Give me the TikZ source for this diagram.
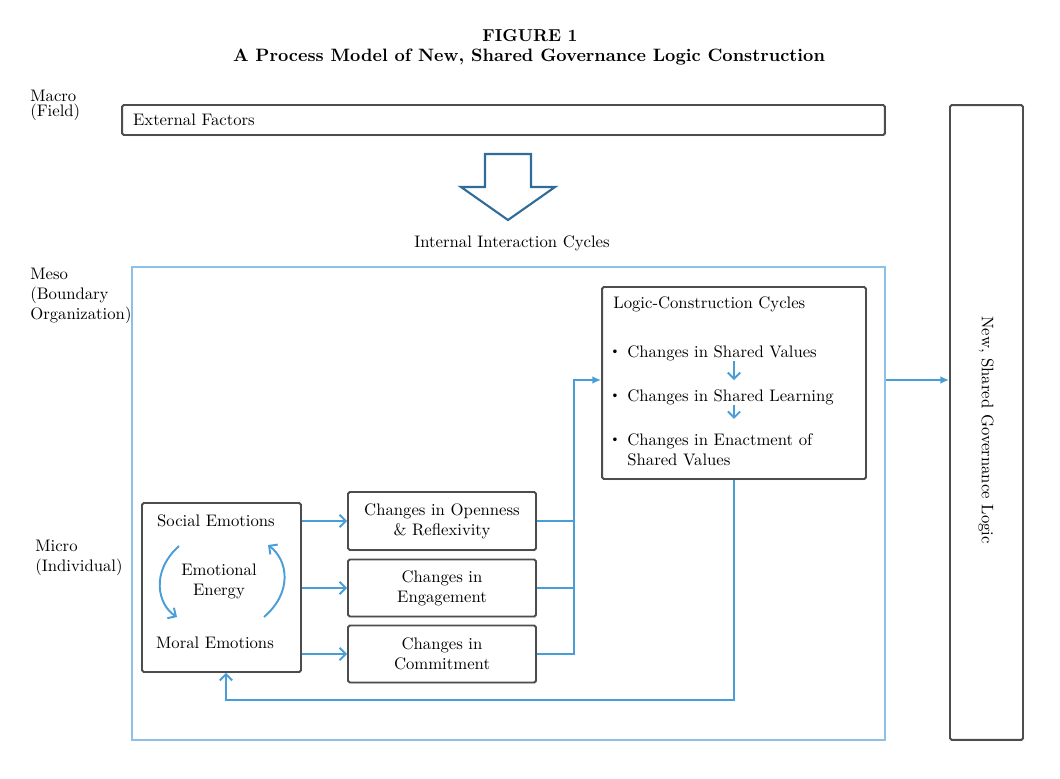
\documentclass[tikz,border=0pt]{standalone}
\usepackage{xcolor}
\usepackage{tikz}
\usetikzlibrary{arrows.meta,shadows}
\definecolor{PMBlue}{HTML}{2F6C99}
\definecolor{PMSky}{HTML}{8CC0E6}
\definecolor{PMLine}{HTML}{4A9ED8}
\definecolor{PMGray}{HTML}{4D4D4D}
\newcommand{\pmfont}{\fontsize{9.5}{11.3}\selectfont}
\newcommand{\pmbul}{\llap{\raisebox{1.6pt}{\scriptsize\textbullet}\hspace{4pt}}}

\tikzset{
  pmbox/.style={draw=PMGray, line width=1.1pt, rounded corners=1pt, fill=white, inner sep=0pt,
    drop shadow={shadow xshift=0.7pt, shadow yshift=-0.7pt, opacity=0.25}},
  pmtext/.style={font=\pmfont, align=left, inner sep=0pt},
  flow/.style={PMLine, line width=1.1pt},
  barb/.style={flow, -{Straight Barb[length=3.5pt,width=7pt]}},
  tri/.style={flow, -{Latex[length=5pt,width=4.5pt]}},
}

\begin{document}
\begin{tikzpicture}[x=0.02cm,y=-0.02cm]
\path[use as bounding box] (0,0) rectangle (1060,778);
% title
\node[font=\fontsize{9.8}{12}\selectfont\bfseries] (fig) at (530,36) {FIGURE 1};
\node[font=\fontsize{10.2}{12}\selectfont\bfseries] (title) at (529,57) {A Process Model of New, Shared Governance Logic Construction};
% level labels
\node[pmtext, anchor=north west] (macro) at (30,90) {Macro\\[-3pt](Field)};
\node[pmtext, anchor=north west] (meso) at (30,268) {Meso\\(Boundary\\Organization)};
\node[pmtext, anchor=north west] (micro) at (35,540) {Micro\\(Individual)};
% macro level
\node[pmbox, minimum width=15.26cm, minimum height=0.6cm, text width=14.82cm, inner xsep=0.22cm, align=left, font=\pmfont] (ext) at (503.5,120) {External Factors};
\draw[PMBlue, line width=1.2pt, line join=miter] (485,154) -- (531,154) -- (531,187) -- (555,187) -- (508,220) -- (461,187) -- (485,187) -- cycle;
\node[font=\pmfont] (iic) at (512,243) {Internal Interaction Cycles};
% meso frame and outcome
\node[draw=PMSky, line width=1.6pt, minimum width=15.06cm, minimum height=9.46cm, inner sep=0pt] (mesobox) at (508.5,503.5) {};
\node[pmbox, minimum width=1.46cm, minimum height=12.7cm] (gov) at (986.5,422.5) {};
\node[font=\pmfont] (govtxt) at (986,430) {\rotatebox{-90}{New, Shared Governance Logic}};
% logic-construction cycles
\node[pmbox, minimum width=5.28cm, minimum height=3.84cm] (logic) at (734,383) {};
\node[pmtext, anchor=base west] (lcc) at (613,308) {Logic-Construction Cycles};
\node[pmtext, anchor=base west] (sv) at (627,357) {\pmbul Changes in Shared Values};
\node[pmtext, anchor=base west] (sl) at (627,401) {\pmbul Changes in Shared Learning};
\node[pmtext, anchor=base west] (se) at (627,465) {\pmbul Changes in Enactment of\\Shared Values};
\draw[barb, shorten >=5pt] (sv.south -| logic.center) -- (sl.north -| logic.center);
\draw[barb, shorten >=8pt] (sl.south -| logic.center) -- (se.north -| logic.center);
% micro level
\node[pmbox, minimum width=3.18cm, minimum height=3.38cm] (emo) at (221.5,587.5) {};
\node[font=\pmfont] (soc) at (216,521) {Social Emotions};
\node[font=\pmfont, align=center] (ee) at (219,581) {Emotional\\Energy};
\node[font=\pmfont] (mor) at (215,643) {Moral Emotions};
\coordinate (c1) at (179,546);
\coordinate (c2) at (177,617);
\coordinate (c3) at (264,617);
\coordinate (c4) at (268,545);
\draw[barb] (c1) .. controls (150,572) and (158,605) .. (c2);
\draw[barb] (c3) .. controls (293,592) and (288,560) .. (c4);

\node[pmbox, minimum width=3.76cm, minimum height=1.16cm, align=center, font=\pmfont] (open) at (442,521) {Changes in Openness\\\& Reflexivity};
\node[pmbox, minimum width=3.76cm, minimum height=1.14cm, align=center, font=\pmfont] (eng) at (442,588) {Changes in\\Engagement};
\node[pmbox, minimum width=3.76cm, minimum height=1.14cm, align=center, font=\pmfont] (com) at (442,654) {Changes in\\Commitment};
% connectors
\draw[barb] (emo.east |- open) -- (open.west);
\draw[barb] (emo.east |- eng) -- (eng.west);
\draw[barb] (emo.east |- com) -- (com.west);
\coordinate (jn) at (574,380);
\draw[flow] (open.east) -| (jn);
\draw[flow] (eng.east) -| (jn);
\draw[tri] (com.east) -| (jn) -- (jn -| logic.west);
\draw[tri] (jn -| mesobox.east) -- (jn -| gov.west);
\coordinate (fb) at (226,700);
\draw[barb] (logic.south) |- (fb) -- (fb |- emo.south);
\end{tikzpicture}
\end{document}
